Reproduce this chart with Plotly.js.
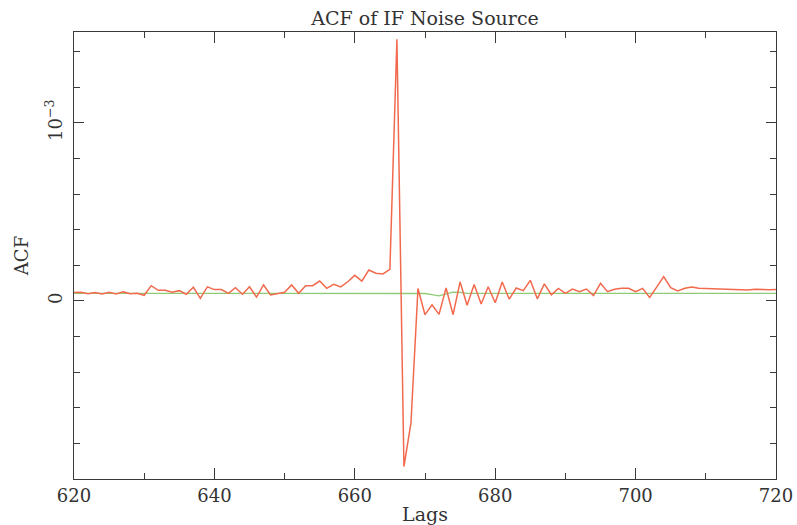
<!DOCTYPE html>
<html>
<head>
<meta charset="utf-8">
<script src="https://cdn.plot.ly/plotly-3.0.1.min.js"></script>
<style>html,body{margin:0;padding:0;background:#fff;}#chart{width:797px;height:525px;}</style>
</head>
<body>
<div id="chart"></div>
<script>
// Lags shown on the x axis
const lags = [];
for (let l = 620; l <= 720; l++) lags.push(l);

// ACF values of the IF noise source, in units of 1e-3 (red trace)
const acfMilli = [
  0.047, 0.049, 0.041, 0.047, 0.039, 0.049, 0.039, 0.051, 0.041, 0.043, // 620-629
  0.032, 0.086, 0.060, 0.060, 0.049, 0.058, 0.038, 0.077, 0.015, 0.079, // 630-639
  0.064, 0.064, 0.043, 0.075, 0.038, 0.080, 0.022, 0.090, 0.034, 0.041, // 640-649
  0.049, 0.090, 0.043, 0.086, 0.086, 0.112, 0.071, 0.094, 0.079, 0.108, // 650-659
  0.144, 0.112, 0.174, 0.156, 0.152, 0.178, 1.470, -0.930, -0.685, 0.070, // 660-669
  -0.077, -0.021, -0.075, 0.073, -0.077, 0.107, -0.024, 0.092, -0.017, 0.080, // 670-679
  -0.010, 0.107, 0.010, 0.073, 0.058, 0.116, 0.012, 0.096, 0.035, 0.071, // 680-689
  0.043, 0.067, 0.052, 0.067, 0.030, 0.099, 0.052, 0.066, 0.071, 0.071, // 690-699
  0.052, 0.071, 0.020, 0.078, 0.137, 0.075, 0.056, 0.071, 0.079, 0.071, // 700-709
  0.070, 0.067, 0.068, 0.067, 0.066, 0.067, 0.062, 0.066, 0.063, 0.063, // 710-719
  0.065                                                                  // 720
];

// Reference / model level (green trace), units of 1e-3
const refMilli = [
  0.043, 0.043, 0.043, 0.043, 0.043, 0.043, 0.043, 0.043, 0.043, 0.043,
  0.043, 0.043, 0.043, 0.043, 0.043, 0.043, 0.043, 0.043, 0.043, 0.043,
  0.043, 0.043, 0.043, 0.043, 0.043, 0.043, 0.043, 0.043, 0.043, 0.043,
  0.043, 0.043, 0.043, 0.043, 0.043, 0.043, 0.043, 0.043, 0.043, 0.043,
  0.043, 0.043, 0.043, 0.043, 0.043, 0.043, 0.043, 0.043, 0.043, 0.043,
  0.042, 0.036, 0.029, 0.040, 0.050, 0.048, 0.043, 0.043, 0.043, 0.043,
  0.043, 0.043, 0.043, 0.043, 0.043, 0.043, 0.043, 0.043, 0.043, 0.043,
  0.043, 0.043, 0.043, 0.043, 0.043, 0.043, 0.043, 0.043, 0.043, 0.043,
  0.043, 0.043, 0.043, 0.043, 0.043, 0.043, 0.043, 0.043, 0.043, 0.043,
  0.043, 0.043, 0.043, 0.043, 0.043, 0.043, 0.043, 0.043, 0.043, 0.043,
  0.043
];

// Axis tick labels
const xTickVals = [620, 640, 660, 680, 700, 720];
const yTickVals = [0, 1];
const yTickText = ['0', '10<sup>\u22123</sup>'];

const FONT = 'DejaVu Serif, Liberation Serif, serif';
const AXC = '#3a3a3a';
const TXT = '#333333';

const traces = [
  {
    x: lags, y: refMilli, type: 'scatter', mode: 'lines',
    line: {color: '#8ecb76', width: 1.3}, hoverinfo: 'skip'
  },
  {
    x: lags, y: acfMilli, type: 'scatter', mode: 'lines',
    line: {color: '#f26a4e', width: 1.5}, hoverinfo: 'skip'
  }
];

const layout = {
  width: 797, height: 525,
  margin: {l: 74, r: 21, t: 32, b: 46},
  paper_bgcolor: '#ffffff', plot_bgcolor: '#ffffff',
  showlegend: false,
  font: {family: FONT, color: TXT, size: 18},
  title: {
    text: 'ACF of IF Noise Source',
    font: {family: FONT, size: 19, color: TXT},
    x: 0.5, xref: 'paper', xanchor: 'center',
    y: 1 - 18 / 525, yref: 'container', yanchor: 'middle'
  },
  xaxis: {
    range: [620, 720],
    tickmode: 'array', tickvals: xTickVals,
    ticks: 'inside', ticklen: 11, tickwidth: 1, tickcolor: AXC,
    minor: {dtick: 10, tick0: 620, ticks: 'inside', ticklen: 6, tickwidth: 1, tickcolor: AXC, showgrid: false},
    showline: true, linecolor: AXC, linewidth: 1, mirror: 'ticks',
    showgrid: false, zeroline: false,
    tickfont: {family: FONT, size: 18, color: TXT},
    ticklabelstandoff: 0,
    title: {text: 'Lags', font: {family: FONT, size: 19, color: TXT}, standoff: 4}
  },
  yaxis: {
    range: [-1.0, 1.511],
    tickmode: 'array', tickvals: yTickVals, ticktext: yTickText,
    tickangle: -90,
    ticks: 'inside', ticklen: 10, tickwidth: 1, tickcolor: AXC,
    minor: {dtick: 0.2, tick0: 0, ticks: 'inside', ticklen: 6, tickwidth: 1, tickcolor: AXC, showgrid: false},
    showline: true, linecolor: AXC, linewidth: 1, mirror: 'ticks',
    showgrid: false, zeroline: false,
    tickfont: {family: FONT, size: 18, color: TXT},
    ticklabelstandoff: 4,
    title: {text: 'ACF', font: {family: FONT, size: 18, color: TXT}, standoff: 8}
  }
};

Plotly.newPlot('chart', traces, layout, {staticPlot: true, displayModeBar: false});
</script>
</body>
</html>
